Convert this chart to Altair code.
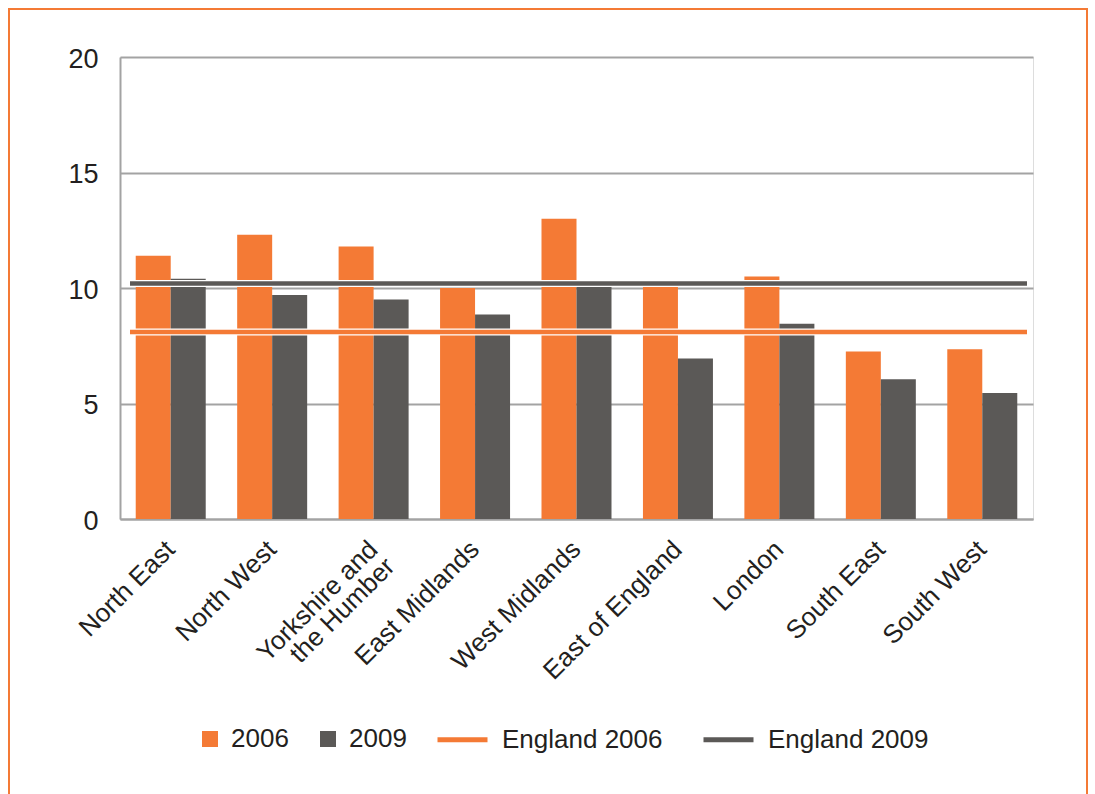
import altair as alt
import pandas as pd

regions = ["North East", "North West", "Yorkshire and the Humber", "East Midlands",
           "West Midlands", "East of England", "London", "South East", "South West"]
values_2006 = [11.4, 12.3, 11.8, 10.0, 13.0, 10.07, 10.5, 7.25, 7.35]
values_2009 = [10.4, 9.7, 9.5, 8.85, 10.15, 6.95, 8.45, 6.05, 5.45]
years = ["2006", "2009"]
england_series = ["England 2006", "England 2009"]
england_values = [8.1, 10.2]
y_ticks = [0, 5, 10, 15, 20]

ORANGE = "#F47A35"
DARK = "#5B5957"
TEXT = "#231F20"
GRID = "#A3A3A3"
FONT = "Liberation Sans"

bars_df = pd.DataFrame(
    [{"region": r, "year": "2006", "value": v} for r, v in zip(regions, values_2006)]
    + [{"region": r, "year": "2009", "value": v} for r, v in zip(regions, values_2009)]
)
eng_df = pd.DataFrame({"series": england_series, "value": england_values})
frame_df = pd.DataFrame({"k": [0]})

W, H = 913, 462

y_enc = alt.Y("value:Q", scale=alt.Scale(domain=[0, 20], nice=False),
              axis=alt.Axis(values=y_ticks, grid=True, gridColor=GRID, gridWidth=2,
                            domain=True, domainColor=GRID, domainWidth=2, ticks=False,
                            labelFontSize=27, labelFont=FONT, labelColor=TEXT,
                            labelPadding=22, labelOffset=2, title=None))

bars = alt.Chart(bars_df).mark_bar().encode(
    x=alt.X("region:N", sort=regions,
            scale=alt.Scale(paddingInner=0.31, paddingOuter=0.155),
            axis=alt.Axis(title=None, labelAngle=-45, labelAlign="right",
                          labelBaseline="middle", labelFontSize=26, labelFont=FONT,
                          labelColor=TEXT, labelPadding=26, ticks=False,
                          domainColor=GRID, domainWidth=2, labelLineHeight=24,
                          labelLimit=400,
                          labelExpr="datum.label == 'Yorkshire and the Humber' ? ['Yorkshire and', 'the Humber'] : datum.label")),
    xOffset=alt.XOffset("year:N", sort=years),
    y=y_enc,
    fill=alt.Fill("year:N", scale=alt.Scale(domain=years, range=[ORANGE, DARK]),
                  legend=alt.Legend(title=None, orient="none", direction="horizontal",
                                    legendX=77, legendY=669, symbolType="square",
                                    symbolSize=256, symbolStrokeWidth=0,
                                    labelFontSize=26, labelFont=FONT, labelColor=TEXT,
                                    labelOffset=8, columnPadding=26, labelLimit=300)),
)

rules_under = alt.Chart(eng_df).mark_rule(color="white", strokeWidth=7).encode(
    y=alt.Y("value:Q"),
    x=alt.value(10), x2=alt.value(907),
)

rules = alt.Chart(eng_df).mark_rule(strokeWidth=4.5).encode(
    y=alt.Y("value:Q"),
    x=alt.value(10), x2=alt.value(907),
    stroke=alt.Stroke("series:N", scale=alt.Scale(domain=england_series, range=[ORANGE, DARK]),
                      legend=alt.Legend(title=None, orient="none", direction="horizontal",
                                        legendX=315, legendY=655, symbolType="stroke",
                                        symbolSize=2500, symbolStrokeWidth=5,
                                        labelFontSize=26, labelFont=FONT, labelColor=TEXT,
                                        labelOffset=12, columnPadding=30, labelLimit=300)),
)

frame = alt.Chart(frame_df).mark_rect(filled=False, stroke=ORANGE, strokeWidth=2).encode(
    x=alt.value(-111), x2=alt.value(967), y=alt.value(-48), y2=alt.value(770),
)

chart = alt.layer(frame, bars, rules_under, rules).properties(
    width=W, height=H,
    autosize=alt.AutoSizeParams(type="none"),
    padding={"left": 120, "top": 57, "right": 62, "bottom": 275},
).configure_view(stroke=None).configure(background="white")

chart.save("out.html", embed_options={"renderer": "svg", "actions": False})
